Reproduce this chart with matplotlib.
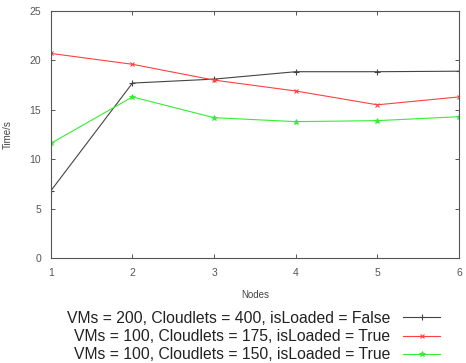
import matplotlib
matplotlib.use('Agg')
import matplotlib.pyplot as plt

plt.rcParams['font.family'] = ['Liberation Sans', 'DejaVu Sans']

nodes = [1, 2, 3, 4, 5, 6]
vm200_c400 = [6.8, 17.7, 18.1, 18.85, 18.85, 18.9]
vm100_c175 = [20.7, 19.6, 18.0, 16.9, 15.5, 16.3]
vm100_c150 = [11.6, 16.3, 14.2, 13.8, 13.9, 14.3]
labels = ['VMs = 200, Cloudlets = 400, isLoaded = False',
          'VMs = 100, Cloudlets = 175, isLoaded = True',
          'VMs = 100, Cloudlets = 150, isLoaded = True']

fig = plt.figure(figsize=(4.66, 3.63), dpi=100)
ax = fig.add_axes([0.109, 0.289, 0.876, 0.681])

ax.plot(nodes, vm200_c400, color='#444444', lw=0.8, marker='+', ms=4, mew=0.8, label=labels[0])
ax.plot(nodes, vm100_c175, color='#ff4040', lw=0.8, marker='x', ms=3.5, mew=0.8, label=labels[1])
ax.plot(nodes, vm100_c150, color='#33ee33', lw=0.8, marker='*', ms=4, mew=0.6, label=labels[2])

ax.set_xlim(1, 6)
ax.set_ylim(0, 25)
ax.set_xticks(nodes)
ax.set_yticks([0, 5, 10, 15, 20, 25])
ax.tick_params(direction='in', top=True, right=True, length=3, width=0.7,
               colors='#555555', labelsize=7.5, pad=7)
for sp in ax.spines.values():
    sp.set_color('#555555')
    sp.set_linewidth(0.8)
ax.set_xlabel('Nodes', fontsize=7, color='#444444', labelpad=9)
ax.set_ylabel('Time/s', fontsize=7, color='#444444', labelpad=12)

fig.legend(loc='upper right', bbox_to_anchor=(0.962, 0.165), frameon=False,
           markerfirst=False, fontsize=11.3, handlelength=2.4, labelspacing=0.2,
           borderpad=0, handletextpad=0.8, labelcolor='#222222')

fig.savefig('out.png', dpi=100)
